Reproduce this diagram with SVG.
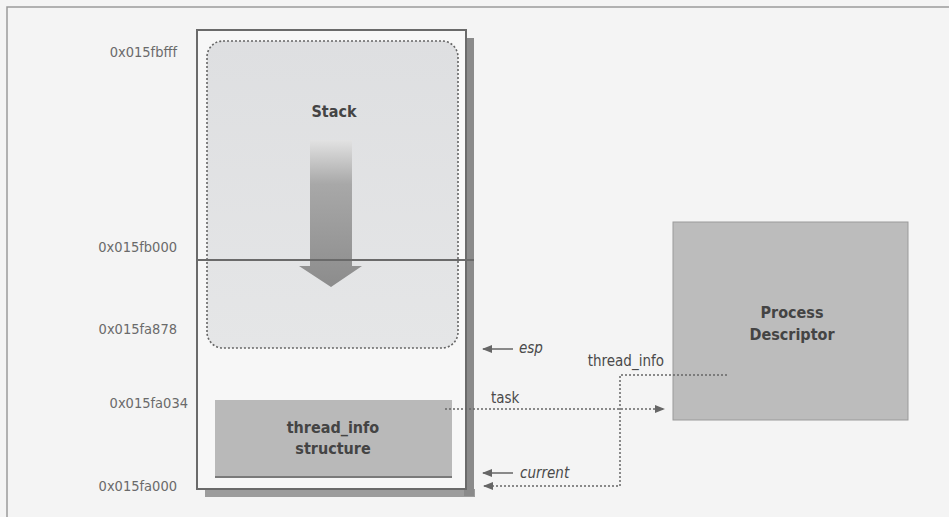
<svg xmlns="http://www.w3.org/2000/svg" width="949" height="517" viewBox="0 0 949 517">
<defs>
<style>
.addr{font-family:'DejaVu Sans Condensed','DejaVu Sans',sans-serif;font-stretch:condensed;font-size:14.5px;fill:#6a6a6a;text-anchor:end}
.lbl{font-family:'DejaVu Sans Condensed','DejaVu Sans',sans-serif;font-stretch:condensed;font-size:15px;fill:#4a4a4a}
.bold{font-family:'DejaVu Sans Condensed','DejaVu Sans',sans-serif;font-stretch:condensed;font-size:16px;font-weight:bold;fill:#444;text-anchor:middle}
.ital{font-style:italic}
.dot{fill:none;stroke:#666;stroke-width:1.5;stroke-dasharray:2 2}
.solid{fill:none;stroke:#666;stroke-width:1.5}
</style>
<linearGradient id="arrowGrad" x1="0" y1="0" x2="0" y2="1">
<stop offset="0" stop-color="#e2e2e2"/>
<stop offset="0.3" stop-color="#a8a8a8"/>
<stop offset="1" stop-color="#8c8c8c"/>
</linearGradient>
<linearGradient id="stackGrad" x1="0" y1="0" x2="0" y2="1">
<stop offset="0" stop-color="#dedfe1"/>
<stop offset="1" stop-color="#e5e6e7"/>
</linearGradient>
<marker id="ah" viewBox="0 0 10 8" refX="9" refY="4" markerWidth="10" markerHeight="8" markerUnits="userSpaceOnUse" orient="auto">
<path d="M0,0 L10,4 L0,8 Z" fill="#666"/>
</marker>
</defs>

<rect x="0" y="0" width="949" height="517" fill="#f4f4f4"/>
<path d="M7,517 V7 H949" fill="none" stroke="#9a9a9a" stroke-width="1.5"/>

<g id="memory-block">
<rect x="205" y="489" width="270" height="8" fill="#9c9c9c"/>
<rect x="464" y="38" width="10" height="458" fill="#8a8a8a"/>
<rect x="197" y="30" width="269" height="459" fill="#f7f7f7" stroke="#6a6a6a" stroke-width="2"/>
</g>

<g id="stack">
<rect x="207" y="41" width="251" height="307" rx="16" ry="16" fill="url(#stackGrad)" stroke="#666" stroke-width="1.6" stroke-dasharray="2 2"/>
<text class="bold" x="334" y="117">Stack</text>
<path d="M310,140 H352 V266 H362 L331,287 L299,266 H310 Z" fill="url(#arrowGrad)"/>
</g>

<line x1="197" y1="260" x2="474" y2="260" stroke="#6a6a6a" stroke-width="2"/>

<g id="thread-info">
<rect x="215" y="400" width="237" height="78" fill="#b9b9b9"/>
<line x1="215" y1="477" x2="452" y2="477" stroke="#7a7a7a" stroke-width="2"/>
<text class="bold" x="333" y="433">thread_info</text>
<text class="bold" x="333" y="454">structure</text>
</g>

<g id="process-descriptor">
<rect x="673" y="222" width="235" height="198" fill="#bcbcbc" stroke="#9a9a9a" stroke-width="1"/>
<text class="bold" x="792" y="318">Process</text>
<text class="bold" x="792" y="340">Descriptor</text>
</g>

<g id="addresses">
<text class="addr" x="177" y="57">0x015fbfff</text>
<text class="addr" x="177" y="252">0x015fb000</text>
<text class="addr" x="177" y="334">0x015fa878</text>
<text class="addr" x="188" y="408">0x015fa034</text>
<text class="addr" x="177" y="491">0x015fa000</text>
</g>

<g id="connectors">
<line class="solid" x1="513" y1="349" x2="483" y2="349" marker-end="url(#ah)"/>
<line class="solid" x1="513" y1="473" x2="483" y2="473" marker-end="url(#ah)"/>
<line class="dot" x1="445" y1="409" x2="664" y2="409" marker-end="url(#ah)"/>
<polyline class="dot" points="727,375 620,375 620,486 484,486" marker-end="url(#ah)"/>
</g>

<g id="labels">
<text class="lbl ital" x="519" y="353">esp</text>
<text class="lbl ital" x="520" y="478">current</text>
<text class="lbl" x="491" y="403">task</text>
<text class="lbl" x="664" y="366" text-anchor="end">thread_info</text>
</g>
</svg>
